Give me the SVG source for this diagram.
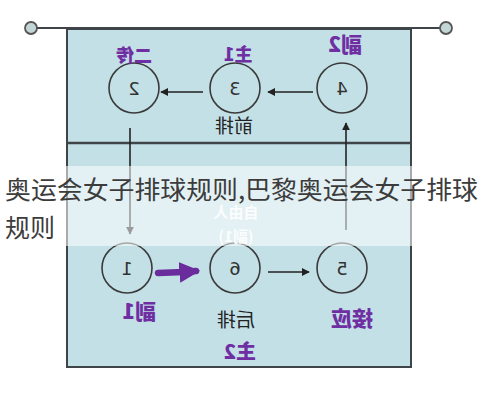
<svg xmlns="http://www.w3.org/2000/svg" width="485" height="400" viewBox="0 0 485 400">
<style>
.pos{fill:#c3e0e6;stroke:#3a3a3a;stroke-width:1.6}
.num{font-family:"DejaVu Sans","Liberation Sans",sans-serif;font-size:18px;fill:#333;text-anchor:middle}
.lab{font-family:"Noto Sans CJK SC","Noto Sans",sans-serif;font-weight:900;fill:#6f2fa3;text-anchor:middle}
.blk{font-family:"Noto Sans CJK SC","Noto Sans",sans-serif;fill:#222;text-anchor:middle;font-size:19px}
.ln{stroke:#222;stroke-width:1.6;fill:none}
.wm{font-family:"Noto Sans CJK SC","Noto Sans",sans-serif;font-size:25px;fill:#3c3c3c}
</style>
<defs>
<marker id="ah" viewBox="0 0 10 10" refX="9" refY="5" markerWidth="5" markerHeight="5" orient="auto"><path d="M0,0 L10,5 L0,10 z" fill="#222"/></marker>
<marker id="ahp" viewBox="0 0 10 10" refX="8" refY="5" markerWidth="3.2" markerHeight="3.2" orient="auto"><path d="M0,0 L10,5 L0,10 z" fill="#6a2c9c"/></marker>
</defs>
<rect width="485" height="400" fill="#fff"/>
<g id="court">
<rect x="67" y="29" width="344" height="338" fill="#c3e0e6" stroke="#3f4448" stroke-width="2"/>
<line x1="37" y1="28" x2="440" y2="28" stroke="#3f4448" stroke-width="2"/>
<circle cx="31" cy="28" r="6" fill="#c3d6d6" stroke="#555" stroke-width="1.8"/>
<circle cx="446" cy="28" r="6" fill="#c3d6d6" stroke="#555" stroke-width="1.8"/>
<line x1="67" y1="143" x2="411" y2="143" stroke="#3f4448" stroke-width="2.4"/>
</g>
<g id="connectors">
<line class="ln" x1="313" y1="92" x2="268" y2="92" marker-end="url(#ah)"/>
<line class="ln" x1="203" y1="92" x2="161" y2="92" marker-end="url(#ah)"/>
<line class="ln" x1="130" y1="128" x2="130" y2="234" marker-end="url(#ah)"/>
<line class="ln" x1="346" y1="230" x2="346" y2="123" marker-end="url(#ah)"/>
<line class="ln" x1="268" y1="272" x2="309" y2="272" marker-end="url(#ah)"/>
<path d="M158,273 L184,272 L196,271" stroke="#6a2c9c" stroke-width="6.5" fill="none" stroke-linecap="round" marker-end="url(#ahp)"/>
</g>
<g id="n2"><circle class="pos" cx="134" cy="88" r="25"/><text class="num" transform="translate(134,95) scale(-1,1)">2</text><text class="lab" font-size="18" transform="translate(134,62) scale(-1,1)">二传</text></g>
<g id="n3"><circle class="pos" cx="235" cy="88" r="25"/><text class="num" transform="translate(235,95) scale(-1,1)">3</text><text class="lab" font-size="18" transform="translate(238,61) scale(-1,1)">主1</text></g>
<g id="n4"><circle class="pos" cx="342" cy="88" r="25"/><text class="num" transform="translate(342,95) scale(-1,1)">4</text><text class="lab" font-size="21" transform="translate(345,52) scale(-1,1)">副2</text></g>
<g id="front"><text class="blk" transform="translate(234,133) scale(-1,1)">前排</text></g>
<g id="n1"><circle class="pos" cx="127" cy="268" r="25"/><text class="num" transform="translate(127,275) scale(-1,1)">1</text><text class="lab" font-size="21" transform="translate(139,319) scale(-1,1)">副1</text></g>
<g id="n6"><circle class="pos" cx="235" cy="268" r="25"/><text class="num" transform="translate(235,275) scale(-1,1)">6</text></g>
<g id="n5"><circle class="pos" cx="342" cy="268" r="25"/><text class="num" transform="translate(342,275) scale(-1,1)">5</text><text class="lab" font-size="21" transform="translate(352,326) scale(-1,1)">接应</text></g>
<g id="back"><text class="blk" transform="translate(236,327) scale(-1,1)">后排</text><text class="lab" font-size="20" transform="translate(240,359) scale(-1,1)">主2</text></g>
<g id="watermark">
<rect x="0" y="166" width="480" height="80" fill="#ffffff" opacity="0.55"/>
<g id="libero" font-family="Noto Sans CJK SC,sans-serif" font-weight="700" fill="#ffffff" text-anchor="middle" font-size="15" opacity="0.9">
<text transform="translate(236,218) scale(-1,1)">自由人</text>
<text transform="translate(236,242) scale(-1,1)">(副1)</text>
</g>
<text class="wm" x="5" y="199" textLength="473" lengthAdjust="spacingAndGlyphs">奥运会女子排球规则,巴黎奥运会女子排球</text>
<text class="wm" x="5" y="237">规则</text>
</g>
</svg>
